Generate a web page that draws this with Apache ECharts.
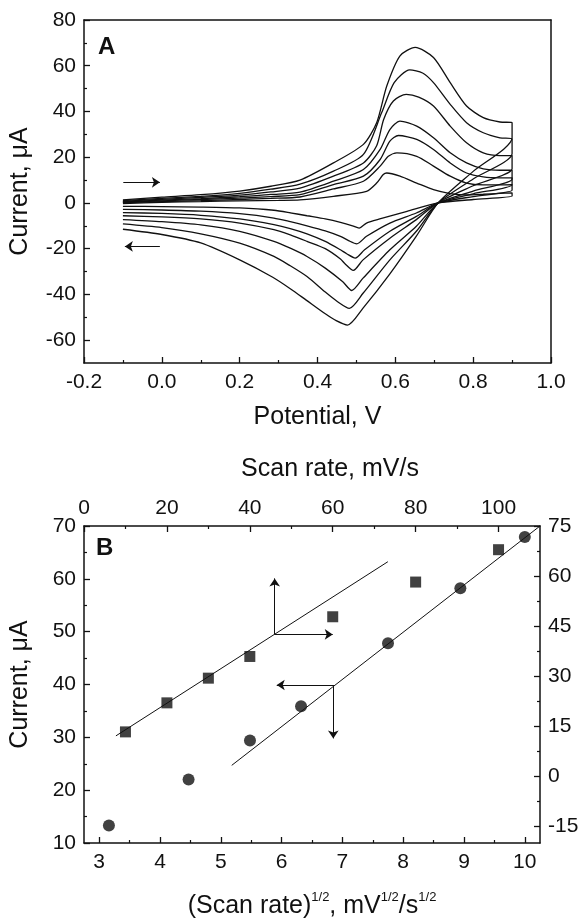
<!DOCTYPE html>
<html>
<head>
<meta charset="utf-8">
<script src="https://cdn.jsdelivr.net/npm/echarts@6/dist/echarts.min.js"></script>
<style>
html, body { margin: 0; padding: 0; background: #fff; }
#chart { width: 581px; height: 922px; }
</style>
</head>
<body>
<div id="chart"></div>
<script>
// Panel A: cyclic voltammograms [potential V, current uA], forward then reverse scan
const fwd10 = [[-0.1,-0.3],[0.0,0.3],[0.1,0.6],[0.2,0.9],[0.3,1.1],[0.355,1.3],[0.441,2.9],[0.526,5.1],[0.552,8.7],[0.569,12.4],[0.578,13.1],[0.612,11.7],[0.655,8.7],[0.698,5.8],[0.741,4.1],[0.783,3.5],[0.826,3.8],[0.869,4.2],[0.9,4.4]];
const rev10 = [[0.9,3.0],[0.8,1.5],[0.71,0],[0.63,-3.7],[0.56,-7.0],[0.526,-8.8],[0.507,-11.0],[0.49,-10.0],[0.459,-8.5],[0.42,-7.0],[0.373,-5.6],[0.33,-4.3],[0.288,-3.2],[0.2,-2.2],[0.1,-1.8],[0.0,-1.6],[-0.1,-1.5]];
const fwd20 = [[-0.1,0.1],[0.0,0.6],[0.1,1.0],[0.2,1.5],[0.28,2.0],[0.355,2.6],[0.441,6.1],[0.518,9.5],[0.561,16.1],[0.582,20.4],[0.604,21.9],[0.655,20.4],[0.698,16.1],[0.741,11.7],[0.783,8.7],[0.826,7.9],[0.869,7.9],[0.9,8.0]];
const rev20 = [[0.9,5.5],[0.8,2.8],[0.71,0],[0.654,-4.4],[0.586,-8.8],[0.526,-14.6],[0.501,-17.9],[0.48,-16.5],[0.459,-14.6],[0.42,-12.2],[0.373,-10.0],[0.33,-8.2],[0.288,-6.6],[0.2,-4.7],[0.1,-3.6],[0.0,-3.1],[-0.1,-2.8]];
const fwd30 = [[-0.1,0.3],[0.0,0.9],[0.1,1.5],[0.2,2.1],[0.28,2.8],[0.355,3.6],[0.441,8.0],[0.518,11.7],[0.561,19.0],[0.586,27.0],[0.608,29.5],[0.655,27.8],[0.698,23.4],[0.741,17.5],[0.783,13.1],[0.826,11.4],[0.869,11.0],[0.9,11.0]];
const rev30 = [[0.9,8.0],[0.8,4.0],[0.71,0],[0.654,-5.9],[0.586,-12.4],[0.521,-20.5],[0.497,-24.1],[0.475,-22.2],[0.459,-20.5],[0.42,-16.8],[0.373,-13.5],[0.33,-11.2],[0.288,-9.5],[0.2,-7.0],[0.1,-5.4],[0.0,-4.6],[-0.1,-4.2]];
const fwd40 = [[-0.1,0.5],[0.0,1.2],[0.1,1.9],[0.2,2.7],[0.28,3.7],[0.355,4.7],[0.441,9.5],[0.518,14.6],[0.561,23.4],[0.586,32.1],[0.612,35.8],[0.655,33.6],[0.698,28.5],[0.741,21.9],[0.783,17.5],[0.826,14.9],[0.869,14.3],[0.9,14.3]];
const rev40 = [[0.9,10.5],[0.8,5.2],[0.71,0],[0.654,-7.3],[0.586,-15.4],[0.517,-24.9],[0.492,-29.5],[0.47,-26.5],[0.459,-24.5],[0.42,-20.0],[0.373,-16.8],[0.33,-14.0],[0.288,-11.7],[0.2,-8.8],[0.1,-7.0],[0.0,-6.1],[-0.1,-5.6]];
const fwd60 = [[-0.1,0.7],[0.0,1.6],[0.1,2.4],[0.2,3.4],[0.28,4.8],[0.355,6.5],[0.441,11.7],[0.518,17.5],[0.552,25.0],[0.57,36.5],[0.595,44.6],[0.628,47.5],[0.66,46.3],[0.698,42.4],[0.741,33.6],[0.783,26.3],[0.826,21.9],[0.869,20.7],[0.9,20.7]];
const rev60 = [[0.9,15.0],[0.8,7.5],[0.71,0],[0.654,-10.2],[0.586,-20.5],[0.517,-32.9],[0.488,-38.3],[0.465,-34.5],[0.42,-28.5],[0.373,-23.4],[0.33,-19.8],[0.288,-16.8],[0.2,-12.4],[0.1,-9.6],[0.0,-8.2],[-0.1,-7.3]];
const fwd80 = [[-0.1,1.0],[0.0,2.0],[0.1,2.9],[0.2,4.2],[0.28,6.0],[0.355,8.2],[0.441,13.9],[0.518,21.2],[0.565,39.5],[0.597,52.6],[0.637,58.2],[0.67,56.8],[0.698,52.6],[0.741,43.1],[0.783,35.1],[0.826,30.7],[0.869,28.5],[0.9,28.0]];
const rev80 = [[0.9,21.5],[0.8,10.5],[0.71,0],[0.654,-12.4],[0.586,-24.9],[0.517,-39.5],[0.482,-46.1],[0.45,-43.0],[0.42,-39.0],[0.373,-32.2],[0.33,-27.5],[0.288,-23.4],[0.2,-17.6],[0.1,-13.5],[0.0,-10.8],[-0.1,-9.2]];
const fwd100 = [[-0.1,1.3],[0.0,2.5],[0.1,3.6],[0.2,5.2],[0.28,7.3],[0.355,10.0],[0.441,17.5],[0.518,25.6],[0.552,35.1],[0.578,51.1],[0.612,64.3],[0.651,68.0],[0.698,63.6],[0.741,52.6],[0.783,42.4],[0.826,37.3],[0.869,35.4],[0.9,35.1]];
const rev100 = [[0.9,28.5],[0.8,13.8],[0.71,0],[0.654,-14.5],[0.586,-31.0],[0.517,-46.0],[0.477,-53.4],[0.448,-51.5],[0.42,-48.5],[0.371,-42.5],[0.33,-37.5],[0.285,-32.5],[0.2,-24.9],[0.1,-17.5],[0.0,-13.8],[-0.1,-11.5]];

// scan direction arrows in panel A
const fwdArrow = [[-0.099, 9.0], [-0.005, 9.0]];
const revArrow = [[-0.005, -19.0], [-0.095, -19.0]];

// Panel B: anodic peak current vs scan rate
const scanRate = [10, 20, 30, 40, 60, 80, 100];
const sqrtScanRate = [3.16, 4.47, 5.48, 6.32, 7.75, 8.94, 10.0];
const peakCurrent = [13.3, 22.0, 29.4, 35.9, 47.8, 58.2, 67.9];
const circleFit = [[5.18, 24.7], [10.25, 70.0]];
const squareFit = [[7.7, 12.1], [73.3, 64.3]];
const circleArrows = [[[6.85, 39.9], [5.92, 39.9]], [[6.85, 39.9], [6.85, 29.8]]];
const squareArrows = [[[46, 42.5], [46, 59.3]], [[46, 42.5], [60, 42.5]]];

// tick positions
const aXMajor = [-0.2, 0, 0.2, 0.4, 0.6, 0.8, 1.0];
const aXMinor = [-0.1, 0.1, 0.3, 0.5, 0.7, 0.9];
const aYMajor = [-60, -40, -20, 0, 20, 40, 60, 80];
const aYMinor = [-50, -30, -10, 10, 30, 50, 70];
const bXMajor = [3, 4, 5, 6, 7, 8, 9, 10];
const bXMinor = [3.5, 4.5, 5.5, 6.5, 7.5, 8.5, 9.5];
const bTopMajor = [0, 20, 40, 60, 80, 100];
const bTopMinor = [10, 30, 50, 70, 90];
const bYMajor = [10, 20, 30, 40, 50, 60, 70];
const bYMinor = [15, 25, 35, 45, 55, 65];
const bRMajor = [-15, 0, 15, 30, 45, 60, 75];
const bRMinor = [-7.5, 7.5, 22.5, 37.5, 52.5, 67.5];

const FONT = 'Liberation Sans, Arial, sans-serif';
const INK = '#111';

const chart = echarts.init(document.getElementById('chart'));

function axisBase(gridIndex, position, min, max) {
  return {
    type: 'value', gridIndex, position, min, max,
    splitLine: { show: false },
    axisLine: { show: true, onZero: false, lineStyle: { color: INK, width: 1.5 } },
    axisTick: { show: false },
    axisLabel: { show: false }
  };
}
function labelled(ax, ticks, fmt, margin) {
  ax.axisTick = { show: true, inside: true, length: 6, customValues: ticks, lineStyle: { color: INK, width: 1.3 } };
  ax.axisLabel = { show: true, customValues: ticks, formatter: fmt, color: INK, fontSize: 21, fontFamily: FONT, margin };
  return ax;
}
function minor(ax, ticks) {
  ax.axisLine = { show: false, onZero: false };
  ax.axisTick = { show: true, inside: true, length: 3, customValues: ticks, lineStyle: { color: INK, width: 1.2 } };
  return ax;
}
const nameStyle = { color: INK, fontSize: 25, fontFamily: FONT };

const xAxes = [
  Object.assign(labelled(axisBase(0, 'bottom', -0.2, 1.0), aXMajor, v => v.toFixed(1), 9),
    { name: 'Potential, V', nameLocation: 'middle', nameGap: 42, nameTextStyle: nameStyle }),
  axisBase(0, 'top', -0.2, 1.0),
  minor(axisBase(1, 'bottom', -0.2, 1.0), aXMinor),
  Object.assign(labelled(axisBase(2, 'bottom', 2.75, 10.25), bXMajor, v => String(v), 9),
    { name: '(Scan rate){s|1/2}, mV{s|1/2}/s{s|1/2}', nameLocation: 'middle', nameGap: 48,
      nameTextStyle: Object.assign({ lineHeight: 30, rich: { s: { fontSize: 13, fontFamily: FONT, color: INK, verticalAlign: 'top', lineHeight: 13 } } }, nameStyle) }),
  Object.assign(labelled(axisBase(2, 'top', 0, 110), bTopMajor, v => String(v), 7),
    { name: 'Scan rate, mV/s', nameLocation: 'middle', nameGap: 44, nameTextStyle: Object.assign({ padding: [0, 0, 0, 36] }, nameStyle) }),
  minor(axisBase(3, 'bottom', 2.75, 10.25), bXMinor),
  minor(axisBase(3, 'top', 0, 110), bTopMinor)
];

const yAxes = [
  Object.assign(labelled(axisBase(0, 'left', -70, 80), aYMajor, v => String(v), 8),
    { name: 'Current, \u03bcA', nameLocation: 'middle', nameGap: 51, nameTextStyle: nameStyle }),
  axisBase(0, 'right', -70, 80),
  minor(axisBase(1, 'left', -70, 80), aYMinor),
  Object.assign(labelled(axisBase(2, 'left', 10, 70), bYMajor, v => String(v), 8),
    { name: 'Current, \u03bcA', nameLocation: 'middle', nameGap: 51, nameTextStyle: nameStyle }),
  labelled(axisBase(2, 'right', -20, 75), bRMajor, v => String(v), 8),
  minor(axisBase(3, 'left', 10, 70), bYMinor),
  minor(axisBase(3, 'right', -20, 75), bRMinor)
];

const cvCurves = [
  fwd10.concat(rev10), fwd20.concat(rev20), fwd30.concat(rev30), fwd40.concat(rev40),
  fwd60.concat(rev60), fwd80.concat(rev80), fwd100.concat(rev100)
];

function arrowMarks(pairs) {
  return {
    silent: true, animation: false,
    symbol: ['none', 'arrow'], symbolSize: 8,
    label: { show: false },
    lineStyle: { color: INK, width: 1, type: 'solid' },
    data: pairs.map(p => [{ coord: p[0] }, { coord: p[1] }])
  };
}

const series = cvCurves.map((d, i) => ({
  type: 'line', xAxisIndex: 0, yAxisIndex: 0, data: d,
  smooth: 0.25, showSymbol: false, silent: true, animation: false,
  lineStyle: { color: INK, width: 1.3 },
  markLine: i === 0 ? arrowMarks([fwdArrow, revArrow]) : undefined
}));

series.push({
  type: 'line', xAxisIndex: 3, yAxisIndex: 3, data: circleFit,
  showSymbol: false, silent: true, animation: false,
  lineStyle: { color: INK, width: 1 },
  markLine: arrowMarks(circleArrows)
});
series.push({
  type: 'line', xAxisIndex: 4, yAxisIndex: 4, data: squareFit,
  showSymbol: false, silent: true, animation: false,
  lineStyle: { color: INK, width: 1 },
  markLine: arrowMarks(squareArrows)
});
series.push({
  type: 'scatter', xAxisIndex: 3, yAxisIndex: 3,
  data: sqrtScanRate.map((x, i) => [x, peakCurrent[i]]),
  symbol: 'circle', symbolSize: 12, itemStyle: { color: INK }, silent: true, animation: false
});
series.push({
  type: 'scatter', xAxisIndex: 4, yAxisIndex: 4,
  data: scanRate.map((x, i) => [x, peakCurrent[i]]),
  symbol: 'rect', symbolSize: 11, itemStyle: { color: INK }, silent: true, animation: false
});

chart.setOption({
  backgroundColor: '#fff',
  animation: false,
  grid: [
    { left: 84, top: 20, width: 467, height: 343, containLabel: false, outerBoundsMode: 'none' },
    { left: 84, top: 20, width: 467, height: 343, containLabel: false, outerBoundsMode: 'none' },
    { left: 84, top: 526, width: 456, height: 317, containLabel: false, outerBoundsMode: 'none' },
    { left: 84, top: 526, width: 456, height: 317, containLabel: false, outerBoundsMode: 'none' }
  ],
  xAxis: xAxes,
  yAxis: yAxes,
  graphic: [
    { type: 'text', left: 98, top: 35, style: { text: 'A', font: 'bold 24px ' + FONT, fill: INK } },
    { type: 'text', left: 96, top: 536, style: { text: 'B', font: 'bold 24px ' + FONT, fill: INK } }
  ],
  series
});
</script>
</body>
</html>
